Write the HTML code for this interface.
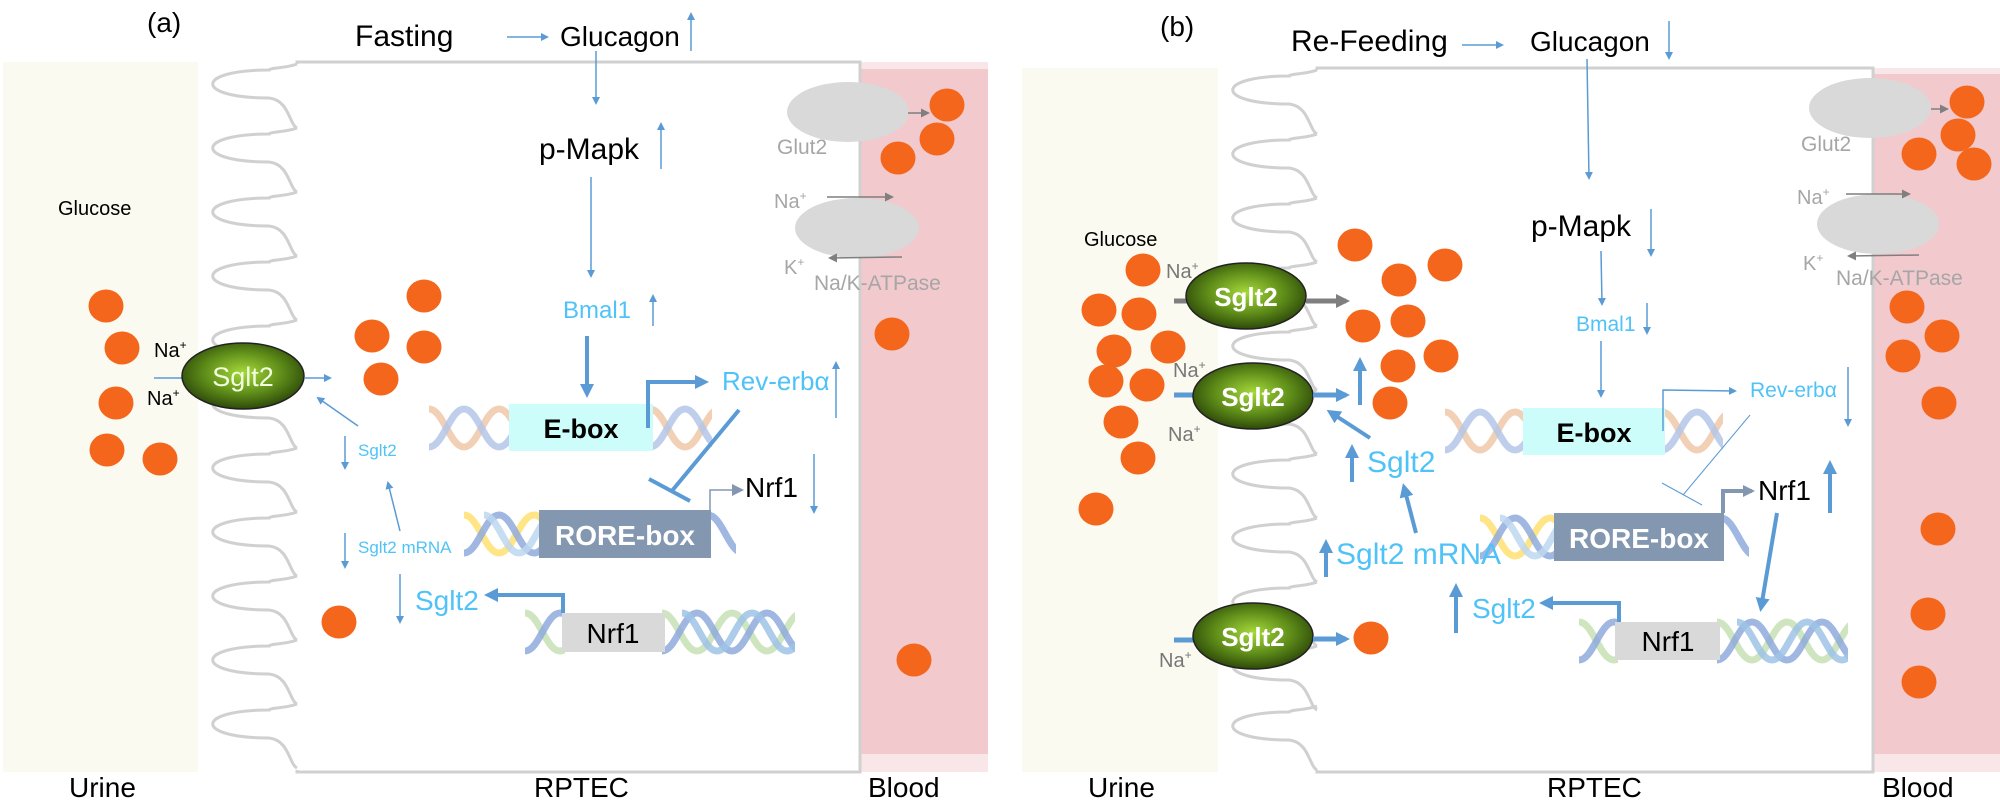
<!DOCTYPE html>
<html><head><meta charset="utf-8"><style>
html,body{margin:0;padding:0;background:#fff}
svg{display:block}
text{font-family:"Liberation Sans",sans-serif}
</style></head><body>
<svg width="2000" height="800" viewBox="0 0 2000 800" xmlns="http://www.w3.org/2000/svg" xmlns:xlink="http://www.w3.org/1999/xlink">
<defs>
<marker id="ab" markerWidth="8" markerHeight="8" refX="6" refY="4" orient="auto" markerUnits="userSpaceOnUse"><path d="M0,0 L8,4 L0,8 z" fill="#5b9bd5"/></marker>
<marker id="abl" markerWidth="14" markerHeight="14" refX="10" refY="7" orient="auto" markerUnits="userSpaceOnUse"><path d="M0,0 L14,7 L0,14 z" fill="#5b9bd5"/></marker>
<marker id="ag" markerWidth="9" markerHeight="9" refX="7" refY="4.5" orient="auto" markerUnits="userSpaceOnUse"><path d="M0,0 L9,4.5 L0,9 z" fill="#7f7f7f"/></marker>
<marker id="agl" markerWidth="14" markerHeight="14" refX="10" refY="7" orient="auto" markerUnits="userSpaceOnUse"><path d="M0,0 L14,7 L0,14 z" fill="#7f7f7f"/></marker>
<marker id="ar" markerWidth="12" markerHeight="12" refX="9" refY="6" orient="auto" markerUnits="userSpaceOnUse"><path d="M0,0 L12,6 L0,12 z" fill="#8497b0"/></marker>
<radialGradient id="og" cx="50%" cy="45%" r="55%"><stop offset="0" stop-color="#a6d93a"/><stop offset="0.6" stop-color="#5c8a18"/><stop offset="1" stop-color="#2e4a0a"/></radialGradient>
<path id="fin" d="M0,0 C-10,4 -28,4 -28,6 C-103,6 -103,34 -28,34 C-8,36 -8,60 0,64" fill="none" stroke="#d0d0d0" stroke-width="3"/>
<path id="sa" d="M0,-19 C14,-19 21,19 35,19 C49,19 56,-19 70,-19" fill="none" stroke-width="7" stroke-opacity="0.85"/>
<path id="sb" d="M0,19 C14,19 21,-19 35,-19 C49,-19 56,19 70,19" fill="none" stroke-width="7" stroke-opacity="0.85"/>
<clipPath id="c1"><rect x="429" y="400" width="83" height="60"/></clipPath>
<clipPath id="c2"><rect x="650" y="400" width="62" height="60"/></clipPath>
<clipPath id="c3"><rect x="464" y="506" width="78" height="60"/></clipPath>
<clipPath id="c4"><rect x="708" y="506" width="28" height="60"/></clipPath>
<clipPath id="c5"><rect x="525" y="604" width="40" height="60"/></clipPath>
<clipPath id="c6"><rect x="662" y="604" width="133" height="60"/></clipPath>
<clipPath id="d1"><rect x="1445" y="403" width="81" height="60"/></clipPath>
<clipPath id="d2"><rect x="1662" y="403" width="61" height="60"/></clipPath>
<clipPath id="d3"><rect x="1480" y="509" width="77" height="60"/></clipPath>
<clipPath id="d4"><rect x="1721" y="509" width="28" height="60"/></clipPath>
<clipPath id="d5"><rect x="1579" y="613" width="39" height="60"/></clipPath>
<clipPath id="d6"><rect x="1717" y="613" width="131" height="60"/></clipPath>
</defs>
<!-- backgrounds -->
<rect x="3" y="62" width="195" height="710" fill="#fafaf0"/>
<rect x="860" y="62" width="128" height="710" fill="#f9e6e8"/>
<rect x="860" y="69" width="128" height="685" fill="#f2c9cd"/>
<rect x="297" y="62" width="563" height="710" fill="#fff" stroke="#d0d0d0" stroke-width="3"/>
<rect x="1022" y="68" width="196" height="704" fill="#fafaf0"/>
<rect x="1873" y="68" width="127" height="704" fill="#f9e6e8"/>
<rect x="1873" y="74" width="127" height="680" fill="#f2c9cd"/>
<rect x="1317" y="68" width="556" height="704" fill="#fff" stroke="#d0d0d0" stroke-width="3"/>
<!-- villi a -->
<rect x="294" y="64" width="6" height="706" fill="#fff"/>
<use xlink:href="#fin" x="297" y="64"/><use xlink:href="#fin" x="297" y="128"/><use xlink:href="#fin" x="297" y="192"/><use xlink:href="#fin" x="297" y="256"/><use xlink:href="#fin" x="297" y="320"/><use xlink:href="#fin" x="297" y="384"/><use xlink:href="#fin" x="297" y="448"/><use xlink:href="#fin" x="297" y="512"/><use xlink:href="#fin" x="297" y="576"/><use xlink:href="#fin" x="297" y="640"/><use xlink:href="#fin" x="297" y="704"/>
<!-- villi b -->
<rect x="1314" y="70" width="6" height="700" fill="#fff"/>
<use xlink:href="#fin" x="1317" y="70"/><use xlink:href="#fin" x="1317" y="134"/><use xlink:href="#fin" x="1317" y="198"/><use xlink:href="#fin" x="1317" y="262"/><use xlink:href="#fin" x="1317" y="326"/><use xlink:href="#fin" x="1317" y="390"/><use xlink:href="#fin" x="1317" y="454"/><use xlink:href="#fin" x="1317" y="518"/><use xlink:href="#fin" x="1317" y="582"/><use xlink:href="#fin" x="1317" y="646"/><use xlink:href="#fin" x="1317" y="706"/>
<!-- helices a -->
<g clip-path="url(#c1)"><use xlink:href="#sa" x="429" y="428" stroke="#f0c8a8"/><use xlink:href="#sa" x="499" y="428" stroke="#f0c8a8"/><use xlink:href="#sb" x="429" y="428" stroke="#b4c7e7"/><use xlink:href="#sb" x="499" y="428" stroke="#b4c7e7"/></g>
<g clip-path="url(#c2)"><use xlink:href="#sa" x="650" y="428" stroke="#f0c8a8"/><use xlink:href="#sb" x="650" y="428" stroke="#b4c7e7"/></g>
<g clip-path="url(#c3)"><use xlink:href="#sa" x="464" y="534" stroke="#ffe070"/><use xlink:href="#sa" x="534" y="534" stroke="#ffe070"/><use xlink:href="#sb" x="464" y="534" stroke="#8faadc"/><use xlink:href="#sb" x="534" y="534" stroke="#8faadc"/><use xlink:href="#sa" x="484" y="534" stroke="#bdd7ee"/></g>
<g clip-path="url(#c4)"><use xlink:href="#sa" x="708" y="534" stroke="#8faadc"/></g>
<g clip-path="url(#c5)"><use xlink:href="#sa" x="525" y="632" stroke="#c5e0b4"/><use xlink:href="#sb" x="525" y="632" stroke="#8faadc"/></g>
<g clip-path="url(#c6)"><use xlink:href="#sa" x="662" y="632" stroke="#c5e0b4"/><use xlink:href="#sa" x="732" y="632" stroke="#c5e0b4"/><use xlink:href="#sb" x="662" y="632" stroke="#8faadc"/><use xlink:href="#sb" x="732" y="632" stroke="#8faadc"/><use xlink:href="#sa" x="682" y="632" stroke="#9dc3e6"/><use xlink:href="#sa" x="752" y="632" stroke="#9dc3e6"/></g>
<!-- helices b -->
<g clip-path="url(#d1)"><use xlink:href="#sa" x="1445" y="431" stroke="#f0c8a8"/><use xlink:href="#sa" x="1515" y="431" stroke="#f0c8a8"/><use xlink:href="#sb" x="1445" y="431" stroke="#b4c7e7"/><use xlink:href="#sb" x="1515" y="431" stroke="#b4c7e7"/></g>
<g clip-path="url(#d2)"><use xlink:href="#sa" x="1662" y="431" stroke="#f0c8a8"/><use xlink:href="#sb" x="1662" y="431" stroke="#b4c7e7"/></g>
<g clip-path="url(#d3)"><use xlink:href="#sa" x="1480" y="537" stroke="#ffe070"/><use xlink:href="#sa" x="1550" y="537" stroke="#ffe070"/><use xlink:href="#sb" x="1480" y="537" stroke="#8faadc"/><use xlink:href="#sb" x="1550" y="537" stroke="#8faadc"/><use xlink:href="#sa" x="1500" y="537" stroke="#bdd7ee"/></g>
<g clip-path="url(#d4)"><use xlink:href="#sa" x="1721" y="537" stroke="#8faadc"/></g>
<g clip-path="url(#d5)"><use xlink:href="#sa" x="1579" y="641" stroke="#c5e0b4"/><use xlink:href="#sb" x="1579" y="641" stroke="#8faadc"/></g>
<g clip-path="url(#d6)"><use xlink:href="#sa" x="1717" y="641" stroke="#c5e0b4"/><use xlink:href="#sa" x="1787" y="641" stroke="#c5e0b4"/><use xlink:href="#sb" x="1717" y="641" stroke="#8faadc"/><use xlink:href="#sb" x="1787" y="641" stroke="#8faadc"/><use xlink:href="#sa" x="1737" y="641" stroke="#9dc3e6"/><use xlink:href="#sa" x="1807" y="641" stroke="#9dc3e6"/></g>
<!-- glucose -->
<g fill="#f4661b">
<ellipse cx="106" cy="306" rx="17.5" ry="16.5"/><ellipse cx="122" cy="348" rx="17.5" ry="16.5"/><ellipse cx="116" cy="403" rx="17.5" ry="16.5"/><ellipse cx="107" cy="450" rx="17.5" ry="16.5"/><ellipse cx="160" cy="459" rx="17.5" ry="16.5"/>
<ellipse cx="424" cy="296" rx="17.5" ry="16.5"/><ellipse cx="372" cy="336" rx="17.5" ry="16.5"/><ellipse cx="424" cy="347" rx="17.5" ry="16.5"/><ellipse cx="381" cy="379" rx="17.5" ry="16.5"/><ellipse cx="339" cy="622" rx="17.5" ry="16.5"/>
<ellipse cx="947" cy="105" rx="17.5" ry="16.5"/><ellipse cx="937" cy="139" rx="17.5" ry="16.5"/><ellipse cx="898" cy="158" rx="17.5" ry="16.5"/><ellipse cx="892" cy="334" rx="17.5" ry="16.5"/><ellipse cx="914" cy="660" rx="17.5" ry="16.5"/>
<ellipse cx="1143" cy="270" rx="17.5" ry="16.5"/><ellipse cx="1099" cy="310" rx="17.5" ry="16.5"/><ellipse cx="1139" cy="314" rx="17.5" ry="16.5"/><ellipse cx="1114" cy="351" rx="17.5" ry="16.5"/><ellipse cx="1168" cy="347" rx="17.5" ry="16.5"/><ellipse cx="1106" cy="381" rx="17.5" ry="16.5"/><ellipse cx="1147" cy="385" rx="17.5" ry="16.5"/><ellipse cx="1121" cy="422" rx="17.5" ry="16.5"/><ellipse cx="1138" cy="458" rx="17.5" ry="16.5"/><ellipse cx="1096" cy="509" rx="17.5" ry="16.5"/>
<ellipse cx="1355" cy="245" rx="17.5" ry="16.5"/><ellipse cx="1445" cy="265" rx="17.5" ry="16.5"/><ellipse cx="1399" cy="280" rx="17.5" ry="16.5"/><ellipse cx="1363" cy="326" rx="17.5" ry="16.5"/><ellipse cx="1408" cy="321" rx="17.5" ry="16.5"/><ellipse cx="1441" cy="356" rx="17.5" ry="16.5"/><ellipse cx="1398" cy="366" rx="17.5" ry="16.5"/><ellipse cx="1390" cy="403" rx="17.5" ry="16.5"/><ellipse cx="1371" cy="638" rx="17.5" ry="16.5"/>
<ellipse cx="1967" cy="102" rx="17.5" ry="16.5"/><ellipse cx="1958" cy="135" rx="17.5" ry="16.5"/><ellipse cx="1919" cy="154" rx="17.5" ry="16.5"/><ellipse cx="1974" cy="164" rx="17.5" ry="16.5"/><ellipse cx="1907" cy="307" rx="17.5" ry="16.5"/><ellipse cx="1942" cy="336" rx="17.5" ry="16.5"/><ellipse cx="1903" cy="356" rx="17.5" ry="16.5"/><ellipse cx="1939" cy="403" rx="17.5" ry="16.5"/><ellipse cx="1938" cy="529" rx="17.5" ry="16.5"/><ellipse cx="1928" cy="614" rx="17.5" ry="16.5"/><ellipse cx="1919" cy="682" rx="17.5" ry="16.5"/>
</g>
<g font-family="Liberation Sans, sans-serif">
<!-- ===== Panel A ===== -->
<text x="147" y="32" font-size="28">(a)</text>
<text x="355" y="46" font-size="30">Fasting</text>
<line x1="507" y1="37" x2="547" y2="37" stroke="#5b9bd5" stroke-width="1.5" marker-end="url(#ab)"/>
<text x="560" y="46" font-size="28">Glucagon</text>
<line x1="691" y1="51" x2="691" y2="14" stroke="#5b9bd5" stroke-width="1.5" marker-end="url(#ab)"/>
<line x1="596" y1="51" x2="596" y2="103" stroke="#5b9bd5" stroke-width="1.5" marker-end="url(#ab)"/>
<text x="539" y="159" font-size="30">p-Mapk</text>
<line x1="661" y1="169" x2="661" y2="124" stroke="#5b9bd5" stroke-width="1.5" marker-end="url(#ab)"/>
<line x1="591" y1="177" x2="591" y2="276" stroke="#5b9bd5" stroke-width="1.5" marker-end="url(#ab)"/>
<text x="563" y="318" font-size="24" fill="#4fc3f7">Bmal1</text>
<line x1="653" y1="326" x2="653" y2="296" stroke="#5b9bd5" stroke-width="1.5" marker-end="url(#ab)"/>
<line x1="587" y1="336" x2="587" y2="394" stroke="#5b9bd5" stroke-width="4" marker-end="url(#abl)"/>
<rect x="509" y="404" width="144" height="47" fill="#ccfdfb"/>
<text x="581" y="438" font-size="27" font-weight="bold" text-anchor="middle">E-box</text>
<polyline points="648,428 648,382 705,382" fill="none" stroke="#5b9bd5" stroke-width="4" marker-end="url(#abl)"/>
<text x="722" y="390" font-size="26" fill="#4fc3f7">Rev-erbα</text>
<line x1="836" y1="418" x2="836" y2="363" stroke="#5b9bd5" stroke-width="1.5" marker-end="url(#ab)"/>
<line x1="739" y1="410" x2="671" y2="492" stroke="#5b9bd5" stroke-width="4"/>
<line x1="649" y1="479" x2="690" y2="501" stroke="#5b9bd5" stroke-width="4"/>
<rect x="539" y="510" width="172" height="48" fill="#8497b0"/>
<text x="625" y="545" font-size="28" font-weight="bold" fill="#fff" text-anchor="middle">RORE-box</text>
<polyline points="710,510 710,490 741,490" fill="none" stroke="#8497b0" stroke-width="1.5" marker-end="url(#ar)"/>
<text x="745" y="497" font-size="28">Nrf1</text>
<line x1="814" y1="454" x2="814" y2="512" stroke="#5b9bd5" stroke-width="1.5" marker-end="url(#ab)"/>
<rect x="562" y="613" width="103" height="39" fill="#d9d9d9"/>
<text x="613" y="643" font-size="28" text-anchor="middle">Nrf1</text>
<polyline points="563,613 563,595 488,595" fill="none" stroke="#5b9bd5" stroke-width="4" marker-end="url(#abl)"/>
<text x="415" y="610" font-size="28" fill="#4fc3f7">Sglt2</text>
<line x1="400" y1="574" x2="400" y2="622" stroke="#5b9bd5" stroke-width="1.5" marker-end="url(#ab)"/>
<text x="358" y="456" font-size="17" fill="#4fc3f7">Sglt2</text>
<line x1="345" y1="436" x2="345" y2="468" stroke="#5b9bd5" stroke-width="1.5" marker-end="url(#ab)"/>
<line x1="358" y1="426" x2="318" y2="398" stroke="#5b9bd5" stroke-width="1.5" marker-end="url(#ab)"/>
<text x="358" y="553" font-size="17" fill="#4fc3f7">Sglt2 mRNA</text>
<line x1="345" y1="533" x2="345" y2="567" stroke="#5b9bd5" stroke-width="1.5" marker-end="url(#ab)"/>
<line x1="400" y1="531" x2="388" y2="483" stroke="#5b9bd5" stroke-width="1.5" marker-end="url(#ab)"/>
<text x="58" y="215" font-size="20">Glucose</text>
<line x1="154" y1="378" x2="185" y2="378" stroke="#5b9bd5" stroke-width="1.5"/>
<ellipse cx="243" cy="376" rx="61" ry="33" fill="url(#og)" stroke="#222" stroke-width="1.5"/>
<text x="243" y="386" font-size="27" fill="#f2ffe0" text-anchor="middle">Sglt2</text>
<line x1="305" y1="378" x2="330" y2="378" stroke="#5b9bd5" stroke-width="1.5" marker-end="url(#ab)"/>
<text x="154" y="357" font-size="20">Na<tspan font-size="12" dy="-8">+</tspan></text>
<text x="147" y="405" font-size="20">Na<tspan font-size="12" dy="-8">+</tspan></text>
<ellipse cx="848" cy="112" rx="61" ry="30" fill="#d9d9d9"/>
<line x1="908" y1="113" x2="928" y2="113" stroke="#7f7f7f" stroke-width="1.5" marker-end="url(#ag)"/>
<text x="777" y="154" font-size="21" fill="#a6a6a6">Glut2</text>
<ellipse cx="857" cy="228" rx="62" ry="30" fill="#d9d9d9"/>
<text x="774" y="208" font-size="20" fill="#a6a6a6">Na<tspan font-size="12" dy="-8">+</tspan></text>
<line x1="827" y1="197" x2="892" y2="197" stroke="#7f7f7f" stroke-width="1.5" marker-end="url(#ag)"/>
<text x="784" y="274" font-size="20" fill="#a6a6a6">K<tspan font-size="12" dy="-8">+</tspan></text>
<line x1="902" y1="257" x2="830" y2="258" stroke="#7f7f7f" stroke-width="1.5" marker-end="url(#ag)"/>
<text x="814" y="290" font-size="21" fill="#a6a6a6">Na/K-ATPase</text>
<text x="69" y="797" font-size="28">Urine</text>
<text x="534" y="797" font-size="28">RPTEC</text>
<text x="868" y="797" font-size="28">Blood</text>

<!-- ===== Panel B ===== -->
<text x="1160" y="36" font-size="28">(b)</text>
<text x="1291" y="51" font-size="30">Re-Feeding</text>
<line x1="1462" y1="45" x2="1502" y2="45" stroke="#5b9bd5" stroke-width="1.5" marker-end="url(#ab)"/>
<text x="1530" y="51" font-size="28">Glucagon</text>
<line x1="1669" y1="21" x2="1669" y2="58" stroke="#5b9bd5" stroke-width="1.5" marker-end="url(#ab)"/>
<line x1="1587" y1="59" x2="1589" y2="178" stroke="#5b9bd5" stroke-width="1.5" marker-end="url(#ab)"/>
<text x="1531" y="236" font-size="30">p-Mapk</text>
<line x1="1651" y1="209" x2="1651" y2="255" stroke="#5b9bd5" stroke-width="1.5" marker-end="url(#ab)"/>
<line x1="1601" y1="251" x2="1602" y2="304" stroke="#5b9bd5" stroke-width="1.5" marker-end="url(#ab)"/>
<text x="1576" y="331" font-size="21" fill="#4fc3f7">Bmal1</text>
<line x1="1647" y1="303" x2="1647" y2="333" stroke="#5b9bd5" stroke-width="1.5" marker-end="url(#ab)"/>
<line x1="1601" y1="341" x2="1601" y2="396" stroke="#5b9bd5" stroke-width="1.5" marker-end="url(#ab)"/>
<rect x="1523" y="408" width="142" height="47" fill="#ccfdfb"/>
<text x="1594" y="442" font-size="27" font-weight="bold" text-anchor="middle">E-box</text>
<polyline points="1663,431 1663,390 1735,391" fill="none" stroke="#5b9bd5" stroke-width="1.5" marker-end="url(#ab)"/>
<text x="1750" y="397" font-size="21" fill="#4fc3f7">Rev-erbα</text>
<line x1="1848" y1="367" x2="1848" y2="425" stroke="#5b9bd5" stroke-width="1.5" marker-end="url(#ab)"/>
<line x1="1750" y1="415" x2="1683" y2="495" stroke="#5b9bd5" stroke-width="1"/>
<line x1="1662" y1="483" x2="1702" y2="505" stroke="#5b9bd5" stroke-width="1"/>
<rect x="1554" y="513" width="170" height="48" fill="#8497b0"/>
<text x="1639" y="548" font-size="28" font-weight="bold" fill="#fff" text-anchor="middle">RORE-box</text>
<polyline points="1723,513 1723,491 1752,491" fill="none" stroke="#8497b0" stroke-width="4" marker-end="url(#ar)"/>
<text x="1758" y="500" font-size="28">Nrf1</text>
<line x1="1830" y1="513" x2="1830" y2="464" stroke="#5b9bd5" stroke-width="4" marker-end="url(#abl)"/>
<line x1="1777" y1="513" x2="1761" y2="608" stroke="#5b9bd5" stroke-width="4" marker-end="url(#abl)"/>
<rect x="1615" y="622" width="105" height="38" fill="#d9d9d9"/>
<text x="1668" y="651" font-size="28" text-anchor="middle">Nrf1</text>
<polyline points="1619,622 1619,603 1543,603" fill="none" stroke="#5b9bd5" stroke-width="4" marker-end="url(#abl)"/>
<text x="1472" y="618" font-size="28" fill="#4fc3f7">Sglt2</text>
<line x1="1456" y1="633" x2="1456" y2="587" stroke="#5b9bd5" stroke-width="4" marker-end="url(#abl)"/>
<text x="1336" y="564" font-size="30" fill="#4fc3f7">Sglt2 mRNA</text>
<line x1="1326" y1="577" x2="1326" y2="543" stroke="#5b9bd5" stroke-width="4" marker-end="url(#abl)"/>
<line x1="1416" y1="533" x2="1404" y2="487" stroke="#5b9bd5" stroke-width="4" marker-end="url(#abl)"/>
<text x="1367" y="472" font-size="30" fill="#4fc3f7">Sglt2</text>
<line x1="1352" y1="482" x2="1352" y2="448" stroke="#5b9bd5" stroke-width="4" marker-end="url(#abl)"/>
<line x1="1370" y1="438" x2="1330" y2="412" stroke="#5b9bd5" stroke-width="4" marker-end="url(#abl)"/>
<line x1="1360" y1="405" x2="1360" y2="361" stroke="#5b9bd5" stroke-width="4" marker-end="url(#abl)"/>
<text x="1084" y="246" font-size="20">Glucose</text>
<line x1="1174" y1="301" x2="1192" y2="301" stroke="#7f7f7f" stroke-width="5"/>
<ellipse cx="1246" cy="296" rx="60" ry="33" fill="url(#og)" stroke="#222" stroke-width="1.5"/>
<text x="1246" y="306" font-size="26" font-weight="bold" fill="#fff" text-anchor="middle">Sglt2</text>
<line x1="1306" y1="301" x2="1346" y2="301" stroke="#7f7f7f" stroke-width="5" marker-end="url(#agl)"/>
<line x1="1174" y1="395" x2="1196" y2="395" stroke="#5b9bd5" stroke-width="5"/>
<ellipse cx="1253" cy="396" rx="60" ry="33" fill="url(#og)" stroke="#222" stroke-width="1.5"/>
<text x="1253" y="406" font-size="26" font-weight="bold" fill="#fff" text-anchor="middle">Sglt2</text>
<line x1="1313" y1="395" x2="1346" y2="395" stroke="#5b9bd5" stroke-width="5" marker-end="url(#abl)"/>
<line x1="1174" y1="640" x2="1196" y2="640" stroke="#5b9bd5" stroke-width="5"/>
<ellipse cx="1253" cy="636" rx="60" ry="33" fill="url(#og)" stroke="#222" stroke-width="1.5"/>
<text x="1253" y="646" font-size="26" font-weight="bold" fill="#fff" text-anchor="middle">Sglt2</text>
<line x1="1313" y1="639" x2="1346" y2="639" stroke="#5b9bd5" stroke-width="5" marker-end="url(#abl)"/>
<text x="1166" y="278" font-size="20" fill="#777">Na<tspan font-size="12" dy="-8">+</tspan></text>
<text x="1173" y="377" font-size="20" fill="#777">Na<tspan font-size="12" dy="-8">+</tspan></text>
<text x="1168" y="441" font-size="20" fill="#777">Na<tspan font-size="12" dy="-8">+</tspan></text>
<text x="1159" y="667" font-size="20" fill="#777">Na<tspan font-size="12" dy="-8">+</tspan></text>
<ellipse cx="1870" cy="108" rx="61" ry="30" fill="#d9d9d9"/>
<line x1="1931" y1="109" x2="1947" y2="109" stroke="#7f7f7f" stroke-width="1.5" marker-end="url(#ag)"/>
<text x="1801" y="151" font-size="21" fill="#a6a6a6">Glut2</text>
<ellipse cx="1878" cy="224" rx="61" ry="30" fill="#d9d9d9"/>
<text x="1797" y="204" font-size="20" fill="#a6a6a6">Na<tspan font-size="12" dy="-8">+</tspan></text>
<line x1="1846" y1="194" x2="1909" y2="194" stroke="#7f7f7f" stroke-width="1.5" marker-end="url(#ag)"/>
<text x="1803" y="270" font-size="20" fill="#a6a6a6">K<tspan font-size="12" dy="-8">+</tspan></text>
<line x1="1919" y1="255" x2="1849" y2="256" stroke="#7f7f7f" stroke-width="1.5" marker-end="url(#ag)"/>
<text x="1836" y="285" font-size="21" fill="#a6a6a6">Na/K-ATPase</text>
<text x="1088" y="797" font-size="28">Urine</text>
<text x="1547" y="797" font-size="28">RPTEC</text>
<text x="1882" y="797" font-size="28">Blood</text>
</g>
</svg>
</body></html>
